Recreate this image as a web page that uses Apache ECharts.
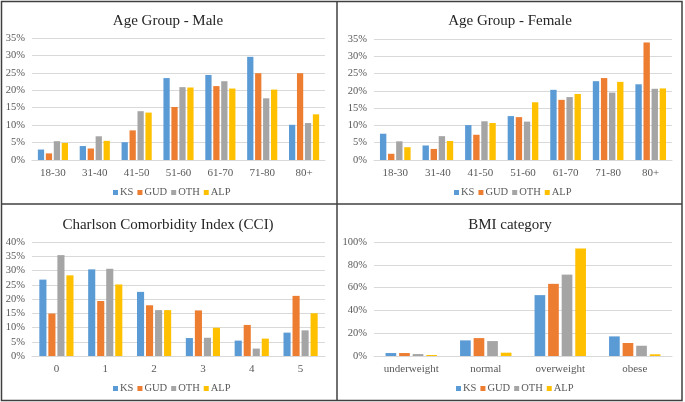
<!DOCTYPE html>
<html>
<head>
<meta charset="utf-8">
<script src="https://cdn.jsdelivr.net/npm/echarts@6/dist/echarts.min.js"></script>
<style>
  html, body { margin: 0; padding: 0; background: #fff; }
  #main { width: 685px; height: 402px; }
</style>
</head>
<body>
<div id="main"></div>
<script>
// categories
var ageGroups = ['18-30', '31-40', '41-50', '51-60', '61-70', '71-80', '80+'];
var cciGroups = ['0', '1', '2', '3', '4', '5'];
var bmiGroups = ['underweight', 'normal', 'overweight', 'obese'];
var seriesNames = ['KS', 'GUD', 'OTH', 'ALP'];

// Age Group - Male (%)
var maleKS  = [3.0, 4.0, 5.1, 23.5, 24.4, 29.6, 10.1];
var maleGUD = [1.9, 3.3, 8.5, 15.2, 21.2, 24.9, 24.9];
var maleOTH = [5.4, 6.8, 14.0, 20.9, 22.6, 17.7, 10.6];
var maleALP = [4.9, 5.5, 13.6, 20.8, 20.5, 20.2, 13.1];

// Age Group - Female (%)
var femaleKS  = [7.6, 4.2, 10.1, 12.7, 20.3, 22.8, 21.9];
var femaleGUD = [1.8, 3.2, 7.3, 12.4, 17.4, 23.7, 34.0];
var femaleOTH = [5.4, 6.9, 11.2, 11.1, 18.2, 19.5, 20.6];
var femaleALP = [3.7, 5.5, 10.7, 16.7, 19.1, 22.6, 20.7];

// Charlson Comorbidity Index (%)
var cciKS  = [26.8, 30.4, 22.5, 6.3, 5.4, 8.2];
var cciGUD = [14.9, 19.3, 17.8, 16.0, 10.9, 21.1];
var cciOTH = [35.4, 30.6, 16.1, 6.4, 2.6, 9.0];
var cciALP = [28.3, 25.1, 16.1, 9.9, 6.1, 15.0];

// BMI category (%)
var bmiKS  = [2.6, 13.7, 53.4, 17.2];
var bmiGUD = [2.6, 15.7, 63.3, 11.4];
var bmiOTH = [1.7, 13.1, 71.4, 9.0];
var bmiALP = [0.9, 2.9, 94.2, 1.5];

var colors = ['#5B9BD5', '#ED7D31', '#A5A5A5', '#FFC000'];
var serif = '"Liberation Serif", "Times New Roman", serif';

var chartDom = document.getElementById('main');
var myChart = echarts.init(chartDom);
var option;

function makeTitle(text, cx, y) {
    return {
        text: text,
        left: cx - 5,
        top: y,
        textAlign: 'center',
        textStyle: { fontFamily: serif, fontSize: 15, fontWeight: 'normal', color: '#262626' }
    };
}

function makeLegend(left, top) {
    return {
        data: seriesNames,
        left: left,
        top: top,
        padding: 0,
        itemWidth: 5,
        itemHeight: 5,
        itemGap: 4,
        icon: 'rect',
        textStyle: { fontFamily: serif, fontSize: 10.5, color: '#595959', padding: [0, 0, 0, -3] }
    };
}

function makeX(idx, data) {
    return {
        type: 'category',
        gridIndex: idx,
        data: data,
        axisTick: { show: false },
        axisLine: { lineStyle: { color: '#D9D9D9' } },
        axisLabel: { fontFamily: serif, fontSize: 11, color: '#595959', margin: 8 }
    };
}

function makeY(idx, max, interval) {
    return {
        type: 'value',
        gridIndex: idx,
        min: 0,
        max: max,
        interval: interval,
        axisLine: { show: false },
        axisTick: { show: false },
        splitLine: { lineStyle: { color: '#D9D9D9' } },
        axisLabel: { fontFamily: serif, fontSize: 10.5, color: '#595959', margin: 7, formatter: '{value}%' }
    };
}

function makeSeries(idx, lists, catGap) {
    return lists.map(function (d, i) {
        return {
            name: seriesNames[i],
            type: 'bar',
            xAxisIndex: idx,
            yAxisIndex: idx,
            data: d,
            color: colors[i],
            barGap: '27%',
            barCategoryGap: catGap
        };
    });
}

option = {
    animation: false,
    backgroundColor: '#ffffff',
    title: [
        makeTitle('Age Group - Male', 168, 9),
        makeTitle('Age Group - Female', 510, 9),
        makeTitle('Charlson Comorbidity Index (CCI)', 168, 213),
        makeTitle('BMI category', 510, 213)
    ],
    legend: [
        makeLegend(113, 187),
        makeLegend(454, 187),
        makeLegend(113, 383),
        makeLegend(456, 383)
    ],
    grid: [
        { left: 32, top: 38, width: 293, height: 122 },
        { left: 374, top: 39, width: 298, height: 121 },
        { left: 32, top: 242, width: 293, height: 114 },
        { left: 374, top: 242, width: 298, height: 114 }
    ],
    xAxis: [
        makeX(0, ageGroups),
        makeX(1, ageGroups),
        makeX(2, cciGroups),
        makeX(3, bmiGroups)
    ],
    yAxis: [
        makeY(0, 35, 5),
        makeY(1, 35, 5),
        makeY(2, 40, 5),
        makeY(3, 100, 20)
    ],
    series: []
        .concat(makeSeries(0, [maleKS, maleGUD, maleOTH, maleALP], '28%'))
        .concat(makeSeries(1, [femaleKS, femaleGUD, femaleOTH, femaleALP], '28%'))
        .concat(makeSeries(2, [cciKS, cciGUD, cciOTH, cciALP], '30%'))
        .concat(makeSeries(3, [bmiKS, bmiGUD, bmiOTH, bmiALP], '31%')),
    graphic: [
        { type: 'rect', shape: { x: 1.5, y: 1.5, width: 680.5, height: 399 }, style: { fill: null, stroke: '#404040', lineWidth: 1.5 } },
        { type: 'line', shape: { x1: 337, y1: 1.5, x2: 337, y2: 400.5 }, style: { stroke: '#404040', lineWidth: 1.5 } },
        { type: 'line', shape: { x1: 1.5, y1: 204, x2: 682, y2: 204 }, style: { stroke: '#404040', lineWidth: 1.5 } }
    ]
};

option && myChart.setOption(option);
</script>
</body>
</html>
